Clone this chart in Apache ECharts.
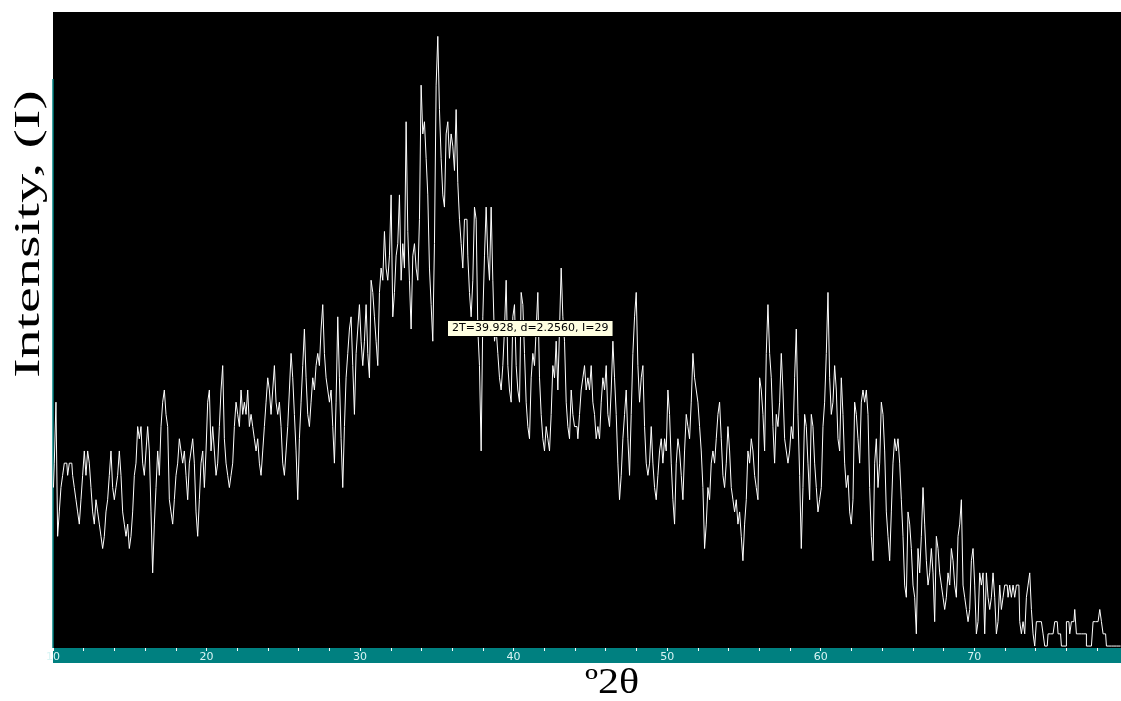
<!DOCTYPE html>
<html><head><meta charset="utf-8">
<script src="https://cdn.jsdelivr.net/npm/echarts@6/dist/echarts.min.js"></script>
<style>html,body{margin:0;padding:0;background:#fff;overflow:hidden}#c{width:1121px;height:701px}</style>
</head><body><div id="c"></div>
<script>
// Scan grid (degrees 2-theta)
const START_2THETA = 10.03;
const STEP_2THETA = 0.1086;
// Intensity counts, in four consecutive stretches
const intensityA = [13,15,20,9,11,13,14,15,15,14,15,15,14,13,12,11,10,12,14,16,14,16,15,13,11,10,12,11,10,9,8,9,11,12,14,16,13,12,13,14,16,14,11,10,9,10,8,9,11,14,15,18,17,18,15,14,16,18,16,11,6,10,13,16,14,18,20,21,19,18,12,11,10,12,14,15,17,16,15,16,14,12,15,16,17,15,11,9,12,15,16,13,16,20,21,16,18,16,14,15,18,21,23,17,15,14,13,14,15,18,20,19,18,21,19,20,19,21,18,19,18,17,16,17,15,14,16,18,20,22,21,19,21,23,20,19,20,18,15,14,16,18,21,24,22,19,16,12,17,20,23,26,22,19,18,20,22,21,23,24,23,26];
const intensityB = [28,24,22,21,20,21,18,15,20,27,22,17,13,18,22,24,26,27,23,19,24,26,28,25,23,25,28,24,22,30,29,27,25,23,29,31,30,34,31,30,32,37,27,29,32,33,37,30,33,31,43,34,30,26,32,33,31,30,35,46,42,43,40,37,31,28,25,33,46,50,44,40,37,36,42,43,40,42,41,39,44,38,35,33,31,35,35,32,29,27,30,36,35,26,23,16,27,32,36,32,30,36,30,25,26,24,22,21,23,26,30,23,21,20,27,28,23,21,20,29,28,24,20,18,17,22,24,23,26,29,22,19,17,16,18,17,16,19,23,22,25,21,26,31,27,25,20,18,17,21,19,18,18,17,19,21,22,23,21,22];
const intensityC = [21,23,20,19,17,18,17,20,22,21,23,19,18,21,25,22,19,15,12,14,17,19,21,17,14,19,24,27,29,23,20,22,23,18,15,14,15,18,15,13,12,14,16,17,15,17,16,21,19,15,12,10,15,17,16,14,12,16,19,18,17,20,24,22,21,20,18,16,13,8,10,13,12,15,16,15,17,19,20,17,14,13,15,18,16,13,12,11,12,10,11,9,7,10,12,16,15,17,16,14,13,12,22,21,19,16,24,28,24,22,18,15,19,18,20,24,21,17,16,15,16,18,17,22,26,19,14,8,13,19,18,15,12,19,18,15,13,11,12,13,18,20,24,29,22,19,20,23,21,17,16,22,19,15,13,14,11,10,12,20,19];
const intensityD = [17,15,20,21,20,21,19,13,9,7,15,17,13,15,20,19,16,11,9,7,11,15,17,16,17,15,12,9,5,4,11,10,8,5,4,1,8,6,9,13,10,7,5,6,8,6,2,9,8,6,5,4,3,4,6,5,8,7,5,4,9,10,12,5,4,3,2,3,7,8,5,1,2,6,5,6,1,6,4,3,4,6,4,1,2,5,3,4,5,5,4,5,4,5,4,5,5,2,1,2,1,4,5,6,3,1,0,2,2,2,2,1,0,0,1,1,1,1,2,2,1,1,0,0,0,2,2,1,2,2,3,1,1,1,1,1,1,0,0,0,0,2,2,2,2,3,2,1,1,0,0,0,0,0,0,0,0,0];
const xLabelValues = [10,20,30,40,50,60,70];
const cursorReadout = '2T=39.928, d=2.2560, I=29';
const xTitle = '\u00BA2\u03B8';
const yTitle = 'Intensity, (I)';

const intensity = intensityA.concat(intensityB, intensityC, intensityD);
const seriesData = intensity.map((v, i) => [+(START_2THETA + i * STEP_2THETA).toFixed(4), v]);

const X_MIN = 10, X_MAX = 79.56, Y_MIN = -0.16, Y_MAX = 52;
const teal = '#008080';

const chart = echarts.init(document.getElementById('c'), null, {renderer: 'canvas'});
chart.setOption({
  animation: false,
  backgroundColor: '#ffffff',
  grid: [
    {left: 53, right: 0, top: 12, bottom: 53, show: true, backgroundColor: '#000000', borderWidth: 0,
     containLabel: false, outerBoundsMode: 'none'},
    {left: 53, right: 0, top: 79, bottom: 53, show: false, containLabel: false, outerBoundsMode: 'none'}
  ],
  xAxis: [
    {type: 'value', gridIndex: 0, min: X_MIN, max: X_MAX, position: 'bottom', offset: 7.5,
     axisLine: {show: true, onZero: false, symbol: 'none', lineStyle: {color: teal, width: 15, cap: 'butt'}},
     axisTick: {show: false}, axisLabel: {show: false}, splitLine: {show: false}},
    {type: 'value', gridIndex: 0, min: X_MIN, max: X_MAX, interval: 2, position: 'bottom', offset: 0,
     axisLine: {show: false, onZero: false},
     axisTick: {show: true, inside: false, length: 3, lineStyle: {color: '#ffffff', width: 1}},
     axisLabel: {show: true, margin: 4, color: '#d8f4f4', fontSize: 11, fontFamily: 'DejaVu Sans',
       formatter: v => (xLabelValues.indexOf(Math.round(v * 1000) / 1000) >= 0 ? String(v) : '')},
     splitLine: {show: false}},
    {type: 'value', gridIndex: 1, min: X_MIN, max: X_MAX, show: false}
  ],
  yAxis: [
    {type: 'value', gridIndex: 0, min: Y_MIN, max: Y_MAX, show: false},
    {type: 'value', gridIndex: 1, min: 0, max: 1, position: 'left',
     axisLine: {show: true, onZero: false, lineStyle: {color: teal, width: 1.5, cap: 'butt'}},
     axisTick: {show: false}, axisLabel: {show: false}, splitLine: {show: false}}
  ],
  series: [{
    type: 'line', xAxisIndex: 0, yAxisIndex: 0, data: seriesData,
    step: 'middle', symbol: 'none', showSymbol: false, clip: true,
    lineStyle: {color: '#ffffff', width: 1}, silent: true
  }],
  graphic: [
    {type: 'text', x: 30, y: 234, rotation: Math.PI / 2, scaleX: 1.62, z: 10,
     style: {text: yTitle, font: '36px "Liberation Serif"', fill: '#000', align: 'center', verticalAlign: 'middle'}},
    {type: 'text', x: 612, y: 684, scaleX: 1.2, z: 10,
     style: {text: xTitle, font: '35px "Liberation Serif"', fill: '#000', align: 'center', verticalAlign: 'middle'}},
    {type: 'text', x: 448, y: 321, z: 100,
     style: {text: cursorReadout, font: '11px "DejaVu Sans"', fill: '#000', backgroundColor: '#ffffe1',
       borderColor: '#000', borderWidth: 1, padding: [2, 4, 2, 4]}}
  ]
});
</script></body></html>
